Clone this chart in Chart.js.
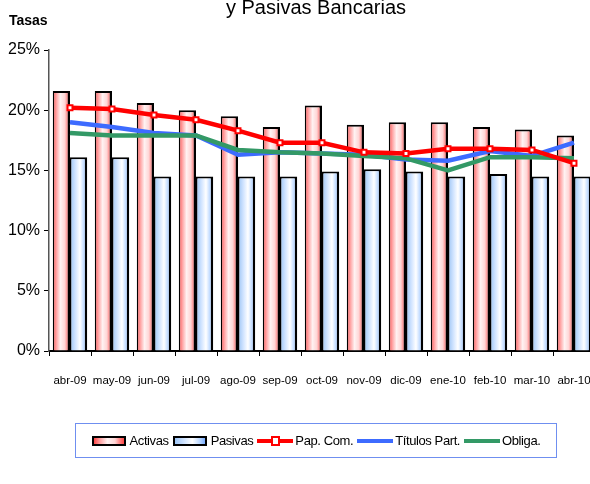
<!DOCTYPE html>
<html>
<head>
<meta charset="utf-8">
<script src="https://cdn.jsdelivr.net/npm/chart.js@4"></script>
<style>
  html, body { margin: 0; padding: 0; background: #fff; }
  body { width: 590px; height: 484px; overflow: hidden; position: relative; }
  #wrap { position: absolute; left: 0; top: 0; width: 590px; height: 484px; overflow: hidden; }
  #legend {
    position: absolute; left: 75px; top: 423px; width: 480px; height: 33px;
    border: 1px solid #6f8ff0; display: flex; align-items: center; justify-content: center;
    font-family: 'Liberation Sans', Arial, sans-serif; letter-spacing: -0.4px;
    font-size: 13px; color: #000;
  }
  .item { display: flex; align-items: center; margin: 0 2px; white-space: nowrap; }
  .box { display: inline-block; width: 30px; height: 6px; border: 2px solid #000; margin-right: 4px; }
  .line { position: relative; display: inline-block; width: 36px; height: 4px; margin-right: 2px; }
  .mark { position: absolute; left: 14px; top: -3px; width: 5px; height: 6px; border: 2px solid #f00; background: #fff; }
</style>
</head>
<body>
<div id="wrap"><canvas id="tasasChart" width="610" height="484"></canvas></div>
<div id="legend">
  <span class="item"><span class="box" style="background: linear-gradient(90deg, #ff4848, #ff9a9a 18%, #fff2f2 45%, #ffd6d6 70%, #ff7070 90%, #ff4848);"></span>Activas</span>
  <span class="item"><span class="box" style="background: linear-gradient(90deg, #9cc4f4, #cfe3ff 30%, #ffffff 58%, #bcd8ff 82%, #7aaeff);"></span>Pasivas</span>
  <span class="item"><span class="line" style="background:#ff0000;"><span class="mark"></span></span>Pap. Com.</span>
  <span class="item"><span class="line" style="background:#3d6bff;"></span>Títulos Part.</span>
  <span class="item"><span class="line" style="background:#339966;"></span>Obliga.</span>
</div>
<script>
const categories = ["abr-09", "may-09", "jun-09", "jul-09", "ago-09", "sep-09", "oct-09",
  "nov-09", "dic-09", "ene-10", "feb-10", "mar-10", "abr-10"];
const activas = [21.6, 21.6, 20.6, 20.0, 19.5, 18.6, 20.4, 18.8, 19.0, 19.0, 18.6, 18.4, 17.9];
const pasivas = [16.1, 16.1, 14.5, 14.5, 14.5, 14.5, 14.9, 15.1, 14.9, 14.5, 14.7, 14.5, 14.5];
const papCom = [20.2, 20.1, 19.6, 19.2, 18.3, 17.3, 17.3, 16.5, 16.4, 16.8, 16.8, 16.7, 15.6];
const titulosPart = [19.0, 18.6, 18.1, 17.9, 16.3, 16.5, 16.4, 16.3, 15.9, 15.8, 16.6, 16.2, 17.3];
const obliga = [18.1, 17.9, 17.9, 17.9, 16.7, 16.5, 16.4, 16.2, 16.0, 15.0, 16.1, 16.1, 16.0];
const yTicks = [0, 5, 10, 15, 20, 25];

const FONT = "'Liberation Sans', Arial, sans-serif";
const CAT_PCT = 0.82;

// horizontal gradient per bar, computed from the x scale
function barGradient(side, stops) {
  return function (context) {
    const chart = context.chart;
    const scale = chart.scales.x;
    if (!scale || context.dataIndex === undefined) return stops[2][1];
    const center = scale.getPixelForValue(context.dataIndex);
    const w = (scale.width / categories.length) * CAT_PCT / 2;
    if (!isFinite(center) || !isFinite(w) || w <= 0) return stops[2][1];
    const x0 = side < 0 ? center - w : center;
    const g = chart.ctx.createLinearGradient(x0, 0, x0 + w, 0);
    stops.forEach((s) => g.addColorStop(s[0], s[1]));
    return g;
  };
}

const redStops = [[0, "#ff4848"], [0.18, "#ff9a9a"], [0.45, "#fff2f2"], [0.7, "#ffd6d6"], [0.9, "#ff7070"], [1, "#ff4848"]];
const blueStops = [[0, "#9cc4f4"], [0.3, "#cfe3ff"], [0.58, "#ffffff"], [0.82, "#bcd8ff"], [1, "#7aaeff"]];

const textPlugin = {
  id: "textPlugin",
  afterDraw(chart) {
    const c = chart.ctx;
    const area = chart.chartArea;
    c.save();
    c.fillStyle = "#000";
    c.font = "20px " + FONT;
    c.textAlign = "center";
    c.textBaseline = "alphabetic";
    c.fillText("y Pasivas Bancarias", 316, 14);
    c.font = "bold 14px " + FONT;
    c.textAlign = "left";
    c.fillText("Tasas", 9, area.top - 25);
    c.restore();
  },
};

new Chart(document.getElementById("tasasChart"), {
  data: {
    labels: categories,
    datasets: [
      {
        type: "line", label: "Pap. Com.", data: papCom, order: 0,
        borderColor: "#ff0000", borderWidth: 4.5, pointStyle: "rect", pointRadius: 3.5,
        pointBackgroundColor: "#ffffff", pointBorderColor: "#ff0000", pointBorderWidth: 2,
        tension: 0,
      },
      {
        type: "line", label: "Obliga.", data: obliga, order: 1,
        borderColor: "#339966", borderWidth: 4.5, pointRadius: 0, tension: 0,
      },
      {
        type: "line", label: "Títulos Part.", data: titulosPart, order: 2,
        borderColor: "#3d6bff", borderWidth: 4.5, pointRadius: 0, tension: 0,
      },
      {
        type: "bar", label: "Activas", data: activas, order: 3,
        backgroundColor: barGradient(-1, redStops),
        borderColor: "#000", borderWidth: { top: 2, right: 2.5, left: 1.5, bottom: 0 },
        borderSkipped: false, barPercentage: 1, categoryPercentage: CAT_PCT,
      },
      {
        type: "bar", label: "Pasivas", data: pasivas, order: 4,
        backgroundColor: barGradient(1, blueStops),
        borderColor: "#000", borderWidth: { top: 2, right: 2.5, left: 1.5, bottom: 0 },
        borderSkipped: false, barPercentage: 1, categoryPercentage: CAT_PCT,
      },
    ],
  },
  options: {
    responsive: false,
    animation: false,
    devicePixelRatio: 1,
    layout: { padding: { left: 0, right: 15, top: 50, bottom: 93 } },
    plugins: {
      legend: { display: false },
      title: { display: false },
      tooltip: { enabled: false },
    },
    scales: {
      x: {
        grid: { display: true, offset: true, drawOnChartArea: false, tickLength: 5, color: "#000" },
        border: { display: true, color: "#000", width: 2 },
        ticks: { color: "#000", font: { family: FONT, size: 11.5 }, padding: 18, maxRotation: 0, autoSkip: false },
        afterFit(scale) { scale.height = 40; },
      },
      y: {
        min: 0, max: 25,
        afterBuildTicks(scale) { scale.ticks = yTicks.map((v) => ({ value: v })); },
        grid: { display: true, drawOnChartArea: false, tickLength: 5, color: "#000" },
        border: { display: true, color: "#555", width: 1.5 },
        ticks: { color: "#000", font: { family: FONT, size: 16 }, padding: 4, callback: (v) => v + "%" },
        afterFit(scale) { scale.width = 49; },
      },
    },
  },
  plugins: [textPlugin],
});
</script>
</body>
</html>
